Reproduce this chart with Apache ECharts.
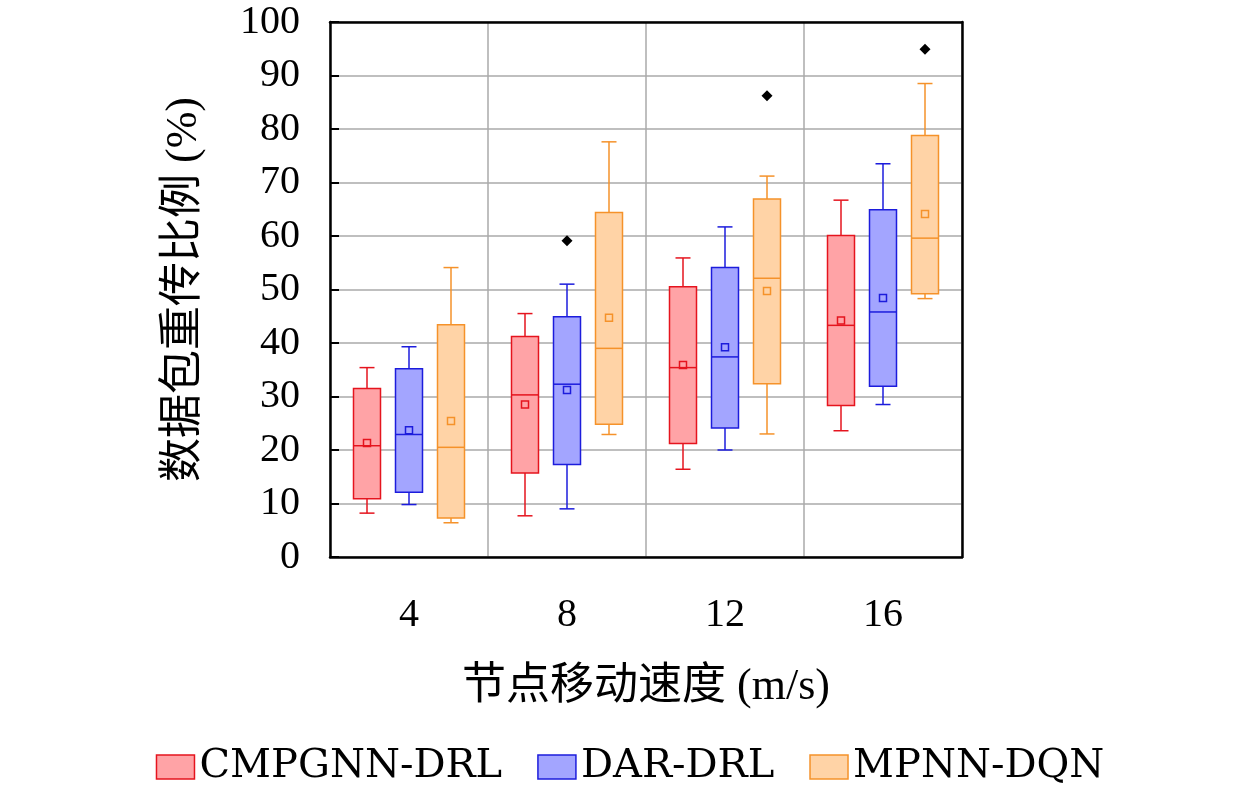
<!DOCTYPE html>
<html>
<head>
<meta charset="utf-8">
<script src="https://cdn.jsdelivr.net/npm/echarts@6/dist/echarts.min.js"></script>
<style>
html,body{margin:0;padding:0;background:#fff;}
#chart{width:1260px;height:792px;}
</style>
</head>
<body>
<div id="chart"></div>
<script>
// speed categories (m/s)
var categories = ['4', '8', '12', '16'];
var seriesNames = ['CMPGNN-DRL', 'DAR-DRL', 'MPNN-DQN'];

// [min, Q1, median, Q3, max]
var cmpgnnBox = [[8.2, 10.9, 20.8, 31.5, 35.4], [7.7, 15.7, 30.3, 41.2, 45.5], [16.4, 21.2, 35.4, 50.5, 55.9], [23.6, 28.3, 43.3, 60.1, 66.7]];
var darBox = [[9.8, 12.1, 22.9, 35.2, 39.3], [9.0, 17.3, 32.3, 44.9, 51.0], [20.0, 24.1, 37.4, 54.1, 61.7], [28.5, 31.9, 45.8, 64.9, 73.5]];
var mpnnBox = [[6.4, 7.3, 20.5, 43.4, 54.1], [22.9, 24.8, 39.0, 64.4, 77.6], [23.0, 32.4, 52.1, 66.9, 71.2], [48.3, 49.2, 59.6, 78.8, 88.5]];

// means
var cmpgnnMean = [21.3, 28.5, 35.9, 44.2];
var darMean = [23.7, 31.2, 39.2, 48.4];
var mpnnMean = [25.4, 44.7, 49.7, 64.1];

// outliers: [category index, series index, value]
var outliers = [[1, 1, 59.1], [2, 2, 86.2], [3, 2, 94.9]];

var strokes = ['#e5141e', '#1c1cdc', '#f5922a'];
var fills = ['#ffa3a6', '#a3a5ff', '#ffd3a6'];
var offsets = [-42 / 158, 0, 42 / 158];
var boxFrac = 27 / 158;
var capFrac = 15 / 158;

function buildData(box, mean) {
    return box.map(function (b, i) {
        return [i].concat(b).concat([mean[i]]);
    });
}

function makeRender(k) {
    return function (params, api) {
        var ci = api.value(0);
        var band = api.size([1, 0])[0];
        var cx = api.coord([ci, 0])[0] + band * offsets[k];
        var half = band * boxFrac / 2;
        var cap = band * capFrac / 2;
        var y = [];
        for (var j = 1; j <= 6; j++) y.push(api.coord([ci, api.value(j)])[1]);
        var ls = {stroke: strokes[k], lineWidth: 1.5};
        return {
            type: 'group',
            children: [
                {type: 'line', shape: {x1: cx, y1: y[4], x2: cx, y2: y[3]}, style: ls},
                {type: 'line', shape: {x1: cx, y1: y[0], x2: cx, y2: y[1]}, style: ls},
                {type: 'line', shape: {x1: cx - cap, y1: y[4], x2: cx + cap, y2: y[4]}, style: ls},
                {type: 'line', shape: {x1: cx - cap, y1: y[0], x2: cx + cap, y2: y[0]}, style: ls},
                {type: 'rect', shape: {x: cx - half, y: y[3], width: half * 2, height: y[1] - y[3]},
                    style: {fill: fills[k], stroke: strokes[k], lineWidth: 1.5}},
                {type: 'line', shape: {x1: cx - half, y1: y[2], x2: cx + half, y2: y[2]}, style: ls},
                {type: 'rect', shape: {x: cx - 3.5, y: y[5] - 3.5, width: 7, height: 7},
                    style: {fill: 'none', stroke: strokes[k], lineWidth: 1.5}}
            ]
        };
    };
}

function renderOutlier(params, api) {
    var ci = api.value(0);
    var band = api.size([1, 0])[0];
    var p = api.coord([ci, api.value(2)]);
    var cx = p[0] + band * offsets[api.value(1)];
    var r = 5.5;
    return {
        type: 'polygon',
        shape: {points: [[cx, p[1] - r], [cx + r, p[1]], [cx, p[1] + r], [cx - r, p[1]]]},
        style: {fill: '#000'}
    };
}

var boxes = [cmpgnnBox, darBox, mpnnBox];
var means = [cmpgnnMean, darMean, mpnnMean];
var series = boxes.map(function (b, k) {
    return {
        name: seriesNames[k],
        type: 'custom',
        renderItem: makeRender(k),
        itemStyle: {color: fills[k], borderColor: strokes[k], borderWidth: 1.5},
        encode: {x: 0, y: [1, 2, 3, 4, 5, 6]},
        data: buildData(b, means[k])
    };
});
series.push({
    name: 'outliers',
    type: 'custom',
    renderItem: renderOutlier,
    encode: {x: 0, y: 2},
    data: outliers
});

var latin = 'Liberation Serif, Noto Sans CJK SC, serif';
var frameLine = {show: true, onZero: false, lineStyle: {color: '#000', width: 2.5}};
var chart = echarts.init(document.getElementById('chart'));
chart.setOption({
    animation: false,
    backgroundColor: '#fff',
    grid: {left: 330, right: 298, top: 22, bottom: 235},
    legend: {
        bottom: 0,
        left: 'center',
        itemWidth: 38,
        itemHeight: 24,
        itemGap: 35,
        icon: 'rect',
        textStyle: {fontFamily: 'DejaVu Serif, serif', fontSize: 40, color: '#000'},
        data: seriesNames.map(function (n, k) {
            return {name: n, itemStyle: {color: fills[k], borderColor: strokes[k], borderWidth: 1.5}};
        })
    },
    xAxis: [{
        type: 'category',
        data: categories,
        name: '节点移动速度 (m/s)',
        nameLocation: 'middle',
        nameGap: 108,
        nameTextStyle: {fontFamily: latin, fontSize: 44, color: '#000'},
        axisLine: frameLine,
        axisTick: {inside: true, alignWithLabel: true, length: 9, lineStyle: {color: '#000', width: 2}},
        axisLabel: {margin: 38, fontFamily: latin, fontSize: 40, color: '#000'},
        splitLine: {show: true, lineStyle: {color: '#aaa', width: 1.5}}
    }, {
        type: 'category',
        data: categories,
        position: 'top',
        axisLine: frameLine,
        axisTick: {show: false},
        axisLabel: {show: false},
        splitLine: {show: false}
    }],
    yAxis: [{
        type: 'value',
        min: 0,
        max: 100,
        interval: 10,
        name: '数据包重传比例 (%)',
        nameLocation: 'middle',
        nameGap: 124,
        nameTextStyle: {fontFamily: latin, fontSize: 44, color: '#000'},
        axisLine: frameLine,
        axisTick: {show: true, inside: true, length: 9, lineStyle: {color: '#000', width: 2}},
        axisLabel: {margin: 30, fontFamily: latin, fontSize: 40, color: '#000'},
        splitLine: {show: true, lineStyle: {color: '#aaa', width: 1.5}}
    }, {
        type: 'value',
        min: 0,
        max: 100,
        interval: 10,
        position: 'right',
        axisLine: frameLine,
        axisTick: {show: false},
        axisLabel: {show: false},
        splitLine: {show: false}
    }],
    series: series
});
</script>
</body>
</html>
